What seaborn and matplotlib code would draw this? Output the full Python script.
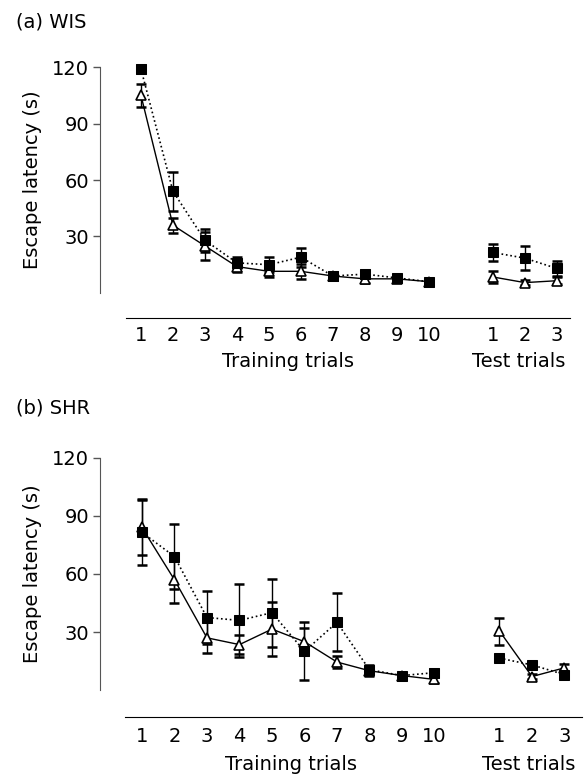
import numpy as np
import pandas as pd
import seaborn as sns
import matplotlib.pyplot as plt

# x positions: 10 training trials, a gap, then 3 test trials
train_pos = list(range(1, 11))
test_pos = [12, 13, 14]
tick_pos = train_pos + test_pos
tick_labels = [str(i) for i in range(1, 11)] + ["1", "2", "3"]

# (a) WIS
wis_sq_train = [119, 54, 28, 16, 15, 19, 9, 10, 8, 6]
wis_sq_train_err = [2, 10.5, 6, 3, 4, 5, 2, 2, 1.5, 1]
wis_sq_test = [21.5, 18.5, 13]
wis_sq_test_err = [4.5, 6.5, 4]
wis_tri_train = [105, 36, 25, 14, 11.5, 11.5, 9, 7.5, 7.5, 6]
wis_tri_train_err = [6, 4, 7.5, 3, 3, 4, 2, 2, 1.5, 1]
wis_tri_test = [8.5, 5.5, 6.5]
wis_tri_test_err = [3, 1.5, 2]

# (b) SHR
shr_sq_train = [81.5, 69, 37.5, 36, 40, 20, 35, 10.5, 7.5, 9]
shr_sq_train_err = [17, 17, 13.5, 19, 17.5, 15, 15, 2.5, 1.5, 2]
shr_sq_test = [16.5, 13, 8]
shr_sq_test_err = [1.5, 1.5, 1.5]
shr_tri_train = [84, 57, 27, 23.5, 31.5, 25, 14.5, 10, 7.5, 5.5]
shr_tri_train_err = [14, 12, 8, 5, 14, 7, 3, 2.5, 1.5, 2]
shr_tri_test = [30.5, 7, 11.5]
shr_tri_test_err = [7, 1.5, 2]


def make_df(sq_tr, sq_tr_e, sq_te, sq_te_e, tri_tr, tri_tr_e, tri_te, tri_te_e):
    rows = []
    for grp, tr, tre, te, tee in [("sq", sq_tr, sq_tr_e, sq_te, sq_te_e),
                                  ("tri", tri_tr, tri_tr_e, tri_te, tri_te_e)]:
        for p, v, e in zip(train_pos, tr, tre):
            rows.append(dict(pos=p, lat=v, err=e, group=grp, phase="train"))
        for p, v, e in zip(test_pos, te, tee):
            rows.append(dict(pos=p, lat=v, err=e, group=grp, phase="test"))
    return pd.DataFrame(rows)


df_a = make_df(wis_sq_train, wis_sq_train_err, wis_sq_test, wis_sq_test_err,
               wis_tri_train, wis_tri_train_err, wis_tri_test, wis_tri_test_err)
df_b = make_df(shr_sq_train, shr_sq_train_err, shr_sq_test, shr_sq_test_err,
               shr_tri_train, shr_tri_train_err, shr_tri_test, shr_tri_test_err)

sns.set_style("ticks")
plt.rcParams['font.family'] = ['DejaVu Sans']
plt.rcParams['text.color'] = 'black'
plt.rcParams['axes.labelcolor'] = 'black'
FS = 14

W, H = 584, 778
fig = plt.figure(figsize=(W / 100, H / 100), dpi=100)


def draw_panel(ax, df, ylim, xlim, xspan, tick_pad, lab_off, lab_x, ylab_x):
    for (grp, ph), dd in df.groupby(["group", "phase"]):
        ax.errorbar(dd.pos, dd.lat, yerr=dd.err, fmt="none", ecolor="black",
                    elinewidth=1, capsize=3.5, capthick=1.8, zorder=2)
    sq = df[df.group == "sq"]
    tri = df[df.group == "tri"]
    sns.lineplot(data=tri, x="pos", y="lat", units="phase", estimator=None, ax=ax,
                 color="black", lw=1, marker="^", markersize=6.5,
                 markerfacecolor="white", markeredgecolor="black", markeredgewidth=1.2,
                 zorder=3)
    sns.lineplot(data=sq, x="pos", y="lat", units="phase", estimator=None, ax=ax,
                 color="black", lw=1.2, linestyle=":", marker="s", markersize=7.5,
                 markerfacecolor="black", markeredgecolor="black", zorder=4)

    ax.set_xlim(*xlim)
    ax.set_ylim(*ylim)
    ax.set_xticks(tick_pos)
    ax.set_xticklabels(tick_labels)
    ax.set_yticks([30, 60, 90, 120])
    ax.tick_params(axis="x", length=0, pad=tick_pad, labelsize=FS, labelcolor="black")
    ax.tick_params(axis="y", length=5, width=1, color="#555555", labelsize=FS,
                   labelcolor="black", pad=3)
    sns.despine(ax=ax)
    ax.spines["left"].set_bounds(0, 120)
    ax.spines["left"].set_color("#555555")
    ax.spines["bottom"].set_bounds(*xspan)
    ax.spines["bottom"].set_color("black")
    ax.set_xlabel("")
    ax.set_ylabel("Escape latency (s)", fontsize=FS)
    yfrac = (60 - ylim[0]) / (ylim[1] - ylim[0])
    ax.yaxis.set_label_coords(ylab_x, yfrac)
    for txt, lx in zip(["Training trials", "Test trials"], lab_x):
        ax.annotate(txt, xy=(lx, 0), xycoords=("data", "axes fraction"),
                    xytext=(0, -lab_off), textcoords="offset points",
                    ha="center", va="center", fontsize=FS)


ax_a = fig.add_axes([100 / W, 1 - 318 / H, 476 / W, 256.6 / H])
draw_panel(ax_a, df_a, (-13.3, 123), (-0.28, 14.6), (0.53, 14.4), 6, 31, (5.6, 12.8),
           -0.122)

ax_b = fig.add_axes([100 / W, 1 - 717 / H, 484 / W, 265 / H])
draw_panel(ax_b, df_b, (-13.9, 123), (-0.29, 14.6), (0.48, 14.55), 7, 34.5, (5.6, 12.9),
           -0.12)

fig.text(16 / W, 1 - 22 / H, "(a) WIS", ha="left", va="center", fontsize=FS)
fig.text(16 / W, 1 - 408 / H, "(b) SHR", ha="left", va="center", fontsize=FS)

fig.savefig("out.png", dpi=100)
